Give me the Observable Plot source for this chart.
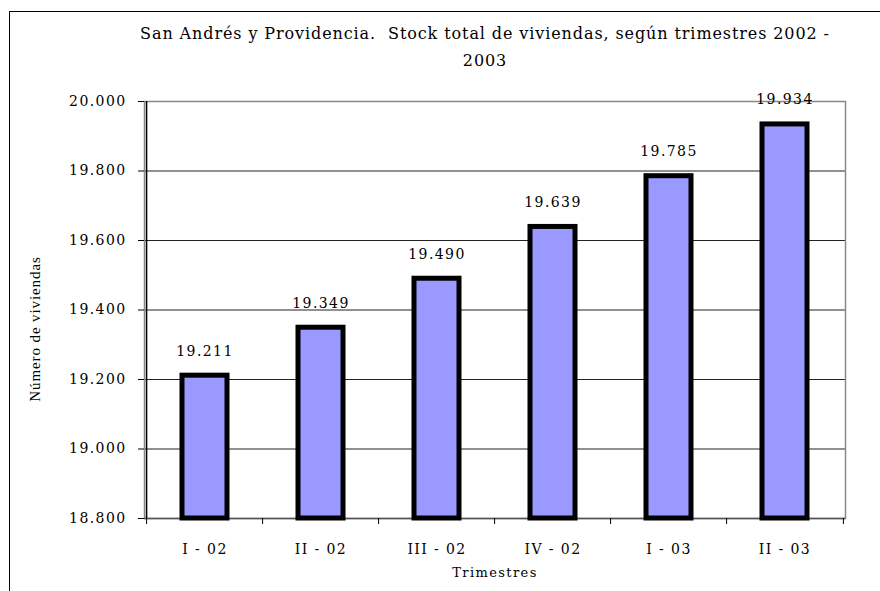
<!DOCTYPE html>
<html>
<head>
<meta charset="utf-8">
<script src="https://cdn.jsdelivr.net/npm/d3@7"></script>
<script src="https://cdn.jsdelivr.net/npm/@observablehq/plot@0.6"></script>
<style>
  body { margin: 0; background: #fff; }
  #wrap { position: relative; width: 880px; height: 591px; overflow: hidden; background: #fff; }
  #border { position: absolute; left: 9px; top: 11px; width: 1000px; height: 1000px; border-left: 1.5px solid #000; border-top: 1.5px solid #000; }
  #title { position: absolute; left: 110px; width: 750px; top: 20px; text-align: center; font-family: "DejaVu Serif", serif; font-size: 16px; line-height: 27px; color: #000; letter-spacing: 0.9px; white-space: nowrap; }
  #chart { position: absolute; left: 0; top: 0; }
  #chart svg text { letter-spacing: 1.4px; }
  #chart svg .ylab text { letter-spacing: 0.9px; }
</style>
</head>
<body>
<div id="wrap">
  <div id="border"></div>
  <div id="chart"></div>
  <div id="title">San Andrés y Providencia.&nbsp; Stock total de viviendas, según trimestres 2002 -<br>2003</div>
</div>
<script>
const categories = ["I - 02", "II - 02", "III - 02", "IV - 02", "I - 03", "II - 03"];
const values = [19211, 19349, 19490, 19639, 19785, 19934];
const yTicks = [18800, 19000, 19200, 19400, 19600, 19800, 20000];
const yDomain = [18800, 20000];

const data = categories.map((c, i) => ({cat: c, value: values[i]}));
const locale = d3.formatLocale({decimal: ",", thousands: ".", grouping: [3], currency: ["", ""]});
const fmt = locale.format(",d");

const W = 880, H = 591, mL = 144, mR = 35, mT = 101, mB = 73;
const step = (W - mL - mR) / categories.length;
const serif = "DejaVu Serif, serif";

const plot = Plot.plot({
  width: W, height: H,
  marginLeft: mL, marginRight: mR, marginTop: mT, marginBottom: mB,
  style: {fontFamily: serif, fontSize: "14px", color: "#000", background: "transparent"},
  x: {domain: categories, paddingInner: 0.615, paddingOuter: 0.3075, label: null},
  y: {domain: yDomain, label: null},
  marks: [
    Plot.ruleY(yTicks.slice(1, -1), {stroke: "#222", strokeWidth: 1}),
    Plot.frame({stroke: "#888", strokeWidth: 1.5}),
    Plot.ruleY([yDomain[0]], {stroke: "#555", strokeWidth: 1.5}),
    Plot.ruleX([categories[0]], {dx: -step / 2, stroke: "#000", strokeWidth: 1.5}),
    Plot.ruleX(categories, {x: d => d, dx: -step / 2, y1: yDomain[0], y2: yDomain[0], insetTop: 6, stroke: "#000"}),
    Plot.ruleX([categories[categories.length - 1]], {dx: step / 2, y1: yDomain[0], y2: yDomain[0], insetTop: 6, stroke: "#000"}),
    Plot.barY(data, {x: "cat", y1: yDomain[0], y2: "value", fill: "#9999ff", stroke: "#000", strokeWidth: 5}),
    Plot.text(data, {x: "cat", y: "value", text: d => fmt(d.value), dy: -20, lineAnchor: "bottom", fontSize: 14, fontFamily: serif, fill: "#000"}),
    Plot.axisY({ticks: yTicks, tickFormat: fmt, tickSize: 6, tickPadding: 12, fontSize: 14, fontFamily: serif, label: null}),
    Plot.axisX({tickSize: 0, tickPadding: 26, fontSize: 14, fontFamily: serif, label: null}),
    Plot.text(["Trimestres"], {frameAnchor: "bottom", dy: 58, fontSize: 13, fontFamily: serif}),
    Plot.text(["Número de viviendas"], {frameAnchor: "left", textAnchor: "middle", dx: -109, dy: 19, rotate: -90, fontSize: 15, fontFamily: "Liberation Serif, serif", className: "ylab"})
  ]
});
document.getElementById("chart").appendChild(plot);
</script>
</body>
</html>
